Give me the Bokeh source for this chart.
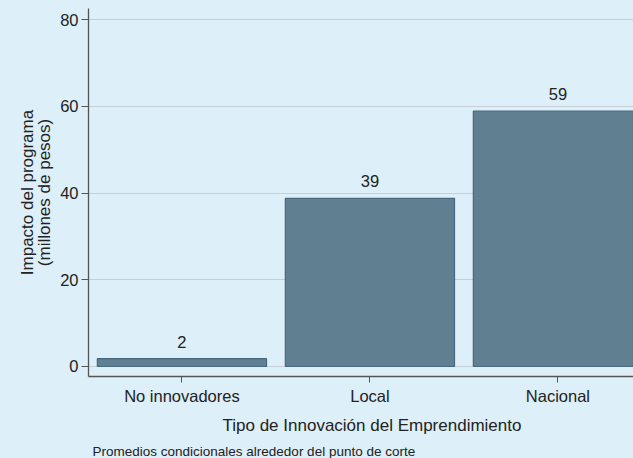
from bokeh.plotting import figure
from bokeh.models import Range1d, FixedTicker, Title, ColumnDataSource, LabelSet
from bokeh.core.properties import value
from bokeh.embed import file_html
from bokeh.resources import INLINE

categories = ["No innovadores", "Local", "Nacional"]
impact = [1.8, 38.8, 58.9]
y_ticks = [0, 20, 40, 60, 80]

BG = "#ddeff8"
FONT = "Liberation Sans"
TXT = "#222222"

xs = list(range(1, len(categories) + 1))
labels = [f"{v:.0f}" for v in impact]
src = ColumnDataSource(dict(x=xs, top=impact, label=labels))

p = figure(width=633, height=458, output_backend="svg", toolbar_location=None,
           x_range=Range1d(0.503, 3.402), y_range=Range1d(-2.31, 82.6),
           min_border_left=88, min_border_right=0, min_border_top=8, min_border_bottom=82)

p.background_fill_color = BG
p.border_fill_color = BG
p.outline_line_color = None

p.vbar(x="x", top="top", bottom=0, width=0.9, source=src,
       fill_color="#607f91", line_color="#48687f", line_width=1.2)

p.add_layout(LabelSet(x="x", y="top", text="label", source=src,
                      text_align="center", text_baseline="alphabetic", y_offset=11,
                      text_font=value(FONT), text_font_size="16.5px", text_color=TXT))

# x axis
p.xaxis.ticker = FixedTicker(ticks=xs)
p.xaxis.major_label_overrides = {x: c for x, c in zip(xs, categories)}
p.xaxis.major_label_text_font = FONT
p.xaxis.major_label_text_font_size = "16.5px"
p.xaxis.major_label_text_color = TXT
p.xaxis.major_label_standoff = 4
p.xaxis.major_tick_out = 6
p.xaxis.major_tick_in = 0
p.xaxis.minor_tick_line_color = None
p.xaxis.axis_line_color = "#555555"
p.xaxis.major_tick_line_color = "#555555"
p.xaxis.axis_line_width = 1.3
p.xgrid.grid_line_color = None

# y axis
p.yaxis.ticker = FixedTicker(ticks=y_ticks)
p.yaxis.major_label_text_font = FONT
p.yaxis.major_label_text_font_size = "16.5px"
p.yaxis.major_label_text_color = TXT
p.yaxis.major_label_standoff = 3
p.yaxis.major_tick_out = 7
p.yaxis.major_tick_in = 0
p.yaxis.minor_tick_line_color = None
p.yaxis.axis_line_color = "#555555"
p.yaxis.major_tick_line_color = "#555555"
p.yaxis.axis_line_width = 1.3
p.yaxis.axis_label = "Impacto del programa\n(millones de pesos)"
p.yaxis.axis_label_text_font = FONT
p.yaxis.axis_label_text_font_size = "17px"
p.yaxis.axis_label_text_font_style = "normal"
p.yaxis.axis_label_text_color = TXT
p.yaxis.axis_label_text_line_height = 0.92
p.yaxis.axis_label_standoff = 3
p.ygrid.ticker = FixedTicker(ticks=y_ticks)
p.ygrid.grid_line_color = "#c5cfd5"
p.ygrid.grid_line_width = 1.2

p.add_layout(Title(text="Tipo de Innovación del Emprendimiento", align="left", offset=134,
                   text_font=FONT, text_font_size="17px", text_font_style="normal",
                   text_color=TXT, standoff=13), "below")
p.add_layout(Title(text="Promedios condicionales alrededor del punto de corte", align="left",
                   offset=4, text_font=FONT, text_font_size="13.5px", text_font_style="normal",
                   text_color=TXT, standoff=0), "below")

html = file_html(p, INLINE)
html = html.replace("<head>", "<head><style>html,body{margin:0;padding:0;background:%s;overflow:hidden}</style>" % BG, 1)
open("out.html", "w").write(html)
